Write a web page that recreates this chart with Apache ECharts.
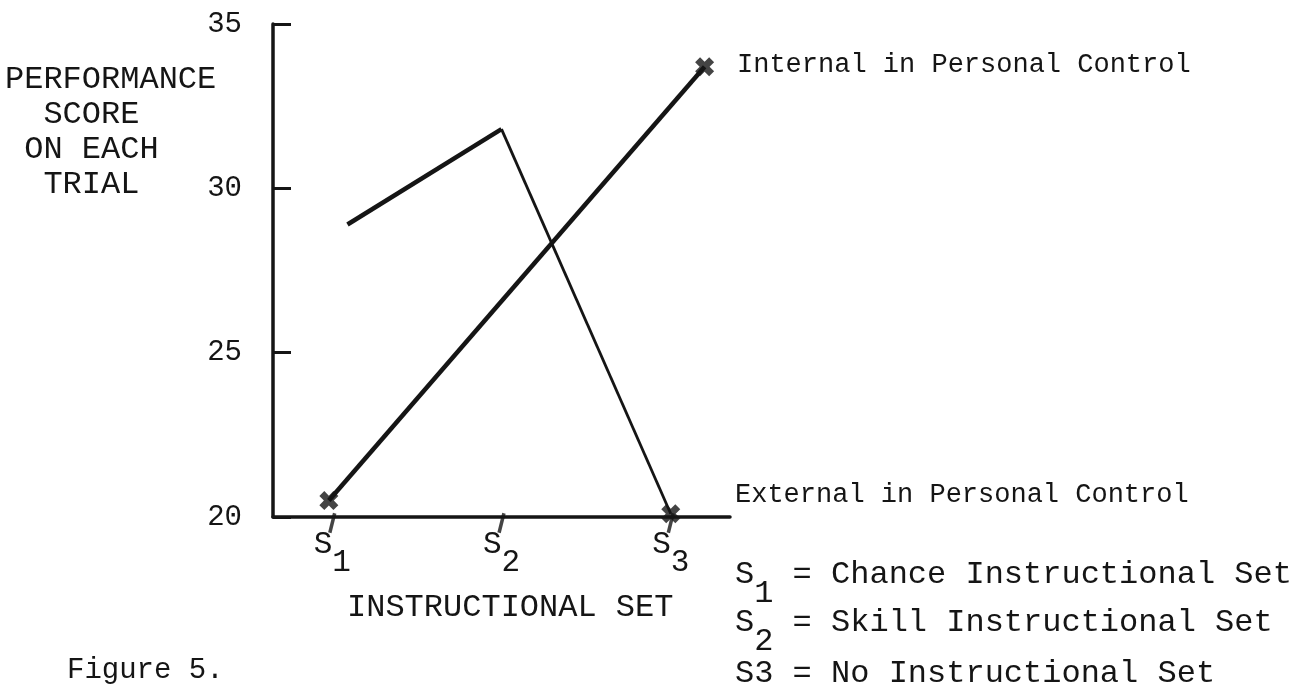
<!DOCTYPE html>
<html>
<head>
<meta charset="utf-8">
<script src="https://cdn.jsdelivr.net/npm/echarts@6/dist/echarts.min.js"></script>
<style>
  html, body { margin: 0; padding: 0; background: #fff; }
  #chart { width: 1315px; height: 698px; }
</style>
</head>
<body>
<div id="chart"></div>
<script>
// instructional sets on the x axis (S1, S2, S3)
const setPositions = [1, 2, 3]
const setSubscripts = ['1', '2', '3']
const setNames = ['Chance Instructional Set', 'Skill Instructional Set', 'No Instructional Set']

// y axis
const yTicks = [20, 25, 30, 35]

// External in Personal Control
const externalX = [1.09, 2, 3]
const externalY = [28.9, 31.8, 20.1]

// Internal in Personal Control
const internalX = [0.98, 3.2]
const internalY = [20.5, 33.7]

const ink = '#151515'
const mono = 'Liberation Mono'

const pairs = (xs, ys) => xs.map((x, i) => [x, ys[i]])
const ext = pairs(externalX, externalY)
const intl = pairs(internalX, internalY)

// typed "x" marks
const crossPath = 'path://M0,2.6L2.6,0L5,2.4L7.4,0L10,2.6L7.6,5L10,7.4L7.4,10L5,7.6L2.6,10L0,7.4L2.4,5Z'

const chart = echarts.init(document.getElementById('chart'), null, { renderer: 'canvas' })

const option = {
    animation: false,
    backgroundColor: '#fff',
    grid: { left: 273, right: 585, top: 24, bottom: 181 },
    xAxis: {
        type: 'value',
        min: 0.65,
        max: 3.35,
        splitLine: { show: false },
        axisLine: { lineStyle: { color: ink, width: 3.5 } },
        axisTick: { show: false },
        axisLabel: {
            customValues: setPositions,
            margin: 19,
            fontFamily: mono,
            fontSize: 31,
            lineHeight: 18,
            color: ink,
            formatter: (v) => 'S \n ' + setSubscripts[setPositions.indexOf(v)],
        },
    },
    yAxis: {
        type: 'value',
        min: yTicks[0],
        max: yTicks[yTicks.length - 1],
        interval: 5,
        splitLine: { show: false },
        axisLine: { show: true, lineStyle: { color: ink, width: 3.5 } },
        axisTick: { show: true, inside: true, length: 18, lineStyle: { color: ink, width: 3 } },
        axisLabel: { margin: 31, fontFamily: mono, fontSize: 29, color: ink },
    },
    series: [
        {
            name: 'External in Personal Control',
            type: 'line',
            data: ext.slice(0, 2),
            symbol: 'none',
            lineStyle: { color: ink, width: 4.5 },
        },
        {
            name: 'External in Personal Control',
            type: 'line',
            data: ext.slice(1),
            symbol: 'none',
            lineStyle: { color: ink, width: 2.8 },
        },
        {
            name: 'Internal in Personal Control',
            type: 'line',
            data: intl,
            symbol: 'none',
            lineStyle: { color: ink, width: 4.5 },
        },
        {
            // x marks at the ends of the lines
            type: 'scatter',
            data: [intl[0], intl[1], ext[ext.length - 1]],
            symbol: crossPath,
            symbolSize: 19,
            itemStyle: { color: ink },
        },
        {
            // hand drawn slanted ticks under S1..S3
            type: 'scatter',
            data: setPositions.map((p) => [p, yTicks[0]]),
            symbol: 'rect',
            symbolSize: [3.5, 20],
            symbolRotate: -14,
            symbolOffset: [0, 6],
            itemStyle: { color: ink },
        },
    ],
    graphic: [
        {
            type: 'text',
            left: 5,
            top: 62,
            style: {
                text: 'PERFORMANCE\n  SCORE\n ON EACH\n  TRIAL',
                font: '32px "' + mono + '"',
                lineHeight: 35,
                fill: ink,
            },
        },
        {
            type: 'text',
            left: 347,
            top: 592,
            style: { text: 'INSTRUCTIONAL SET', font: '32px "' + mono + '"', fill: ink },
        },
        {
            type: 'text',
            left: 67,
            top: 656,
            style: { text: 'Figure 5.', font: '29px "' + mono + '"', fill: ink },
        },
        {
            type: 'text',
            left: 737,
            top: 51,
            style: { text: 'Internal in Personal Control', font: '27px "' + mono + '"', fill: ink },
        },
        {
            type: 'text',
            left: 735,
            top: 481,
            style: { text: 'External in Personal Control', font: '27px "' + mono + '"', fill: ink },
        },
        {
            type: 'text',
            left: 735,
            top: 559,
            style: {
                text: 'S  = ' + setNames[0] + '\n ' + setSubscripts[0],
                font: '32px "' + mono + '"',
                lineHeight: 19,
                fill: ink,
            },
        },
        {
            type: 'text',
            left: 735,
            top: 607,
            style: {
                text: 'S  = ' + setNames[1] + '\n ' + setSubscripts[1],
                font: '32px "' + mono + '"',
                lineHeight: 19,
                fill: ink,
            },
        },
        {
            type: 'text',
            left: 735,
            top: 658,
            style: {
                text: 'S' + setSubscripts[2] + ' = ' + setNames[2],
                font: '32px "' + mono + '"',
                fill: ink,
            },
        },
    ],
}

chart.setOption(option)
</script>
</body>
</html>
